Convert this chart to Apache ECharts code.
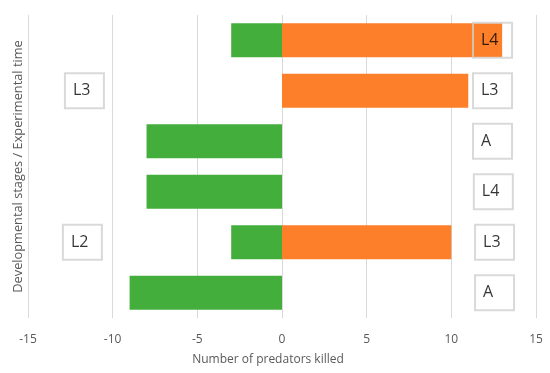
<!DOCTYPE html>
<html><head><meta charset="utf-8">
<script src="https://cdn.jsdelivr.net/npm/echarts@6/dist/echarts.min.js"></script>
<style>html,body{margin:0;padding:0;background:#fff}#c{width:550px;height:373px}</style>
</head><body><div id="c"></div>
<script>
var categories = ['1','2','3','4','5','6'];
var greenValues = [-3, 0, -8, -8, -3, -9];
var orangeValues = [13, 11, 0, 0, 10, 0];
var rightBoxLabels = ['L4','L3','A','L4','L3','A'];
var rightBoxX = [11.28, 11.28, 11.28, 11.33, 11.4, 11.4];
var leftBoxLabels = ['L3','L2'];
var leftBoxRows = [1, 4];
var leftBoxX = [-12.82, -12.94];
var xTicks = {min:-15, max:15, interval:5};

var font = "'Open Sans', sans-serif";
var boxLabel = {
  show: true, position: 'inside', formatter: function(p){return p.data.name;},
  color: '#000', fontSize: 16, fontFamily: font,
  borderColor: '#cfcfcf', borderWidth: 1, backgroundColor: 'transparent',
  width: 24, height: 35, lineHeight: 35, padding: [0, 7, 0, 8], align: 'left', verticalAlign: 'middle'
};
function boxData(xs, rows, labels){
  return labels.map(function(l,i){return {name:l, value:[xs[i], rows[i]]};});
}
var chart = echarts.init(document.getElementById('c'));
chart.setOption({
  animation: false,
  grid: {left: 28, right: 14, top: 15, bottom: 55, containLabel: false},
  xAxis: {
    type: 'value', min: xTicks.min, max: xTicks.max, interval: xTicks.interval,
    axisLine: {show: false}, axisTick: {show: false},
    splitLine: {lineStyle: {color: '#d9d9d9'}},
    axisLabel: {color: '#595959', fontSize: 12, fontFamily: font, margin: 16},
    name: 'Number of predators killed', nameLocation: 'middle', nameGap: 36,
    nameTextStyle: {color: '#595959', fontSize: 12, fontFamily: font, padding: [0, 28, 0, 0]}
  },
  yAxis: {
    type: 'category', data: categories, inverse: true,
    axisLine: {show: false}, axisTick: {show: false}, axisLabel: {show: false},
    name: 'Developmental stages / Experimental time', nameLocation: 'middle', nameGap: 3,
    nameTextStyle: {color: '#595959', fontSize: 12.8, fontFamily: font}
  },
  series: [
    {type: 'bar', stack: 's', data: greenValues, barCategoryGap: '33%', itemStyle: {color: '#44AE3C'}},
    {type: 'bar', stack: 's', data: orangeValues, barCategoryGap: '33%', itemStyle: {color: '#FE7F29'}},
    {type: 'scatter', symbolSize: 1, itemStyle: {color: 'rgba(0,0,0,0)'}, label: boxLabel, z: 5,
     data: boxData(rightBoxX, [0,1,2,3,4,5], rightBoxLabels)},
    {type: 'scatter', symbolSize: 1, itemStyle: {color: 'rgba(0,0,0,0)'}, label: boxLabel, z: 5,
     data: boxData(leftBoxX, leftBoxRows, leftBoxLabels)}
  ]
});
</script></body></html>
